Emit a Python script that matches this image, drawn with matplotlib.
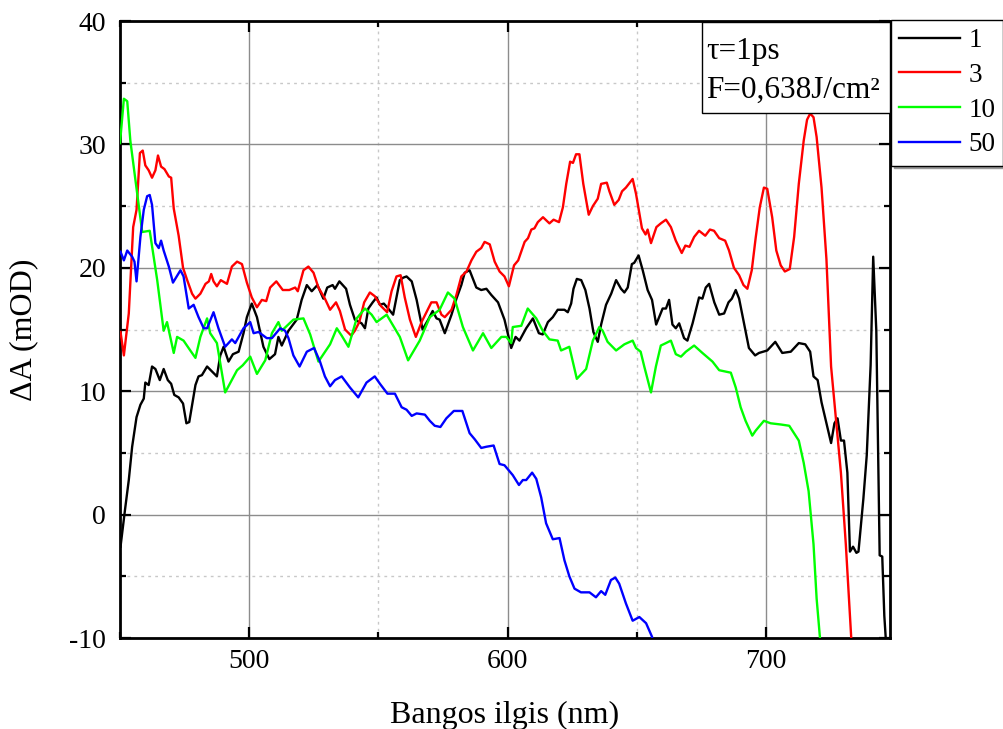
import matplotlib
matplotlib.use('Agg')
import matplotlib.pyplot as plt
from matplotlib.ticker import MultipleLocator
from matplotlib.patches import Rectangle

# delay 1 ps traces, one per number of pulses
wl_1 = [450.2, 452.0, 453.4, 454.7, 456.4, 457.9, 459.2, 459.8, 461.1, 462.4, 463.7, 465.4, 466.9, 468.5,
        469.8, 471.0, 472.7, 474.4, 475.7, 476.8, 479.2, 480.4, 481.7, 483.7, 485.6, 487.5, 488.8, 490.1,
        492.0, 493.7, 495.9, 497.8, 499.1, 501.0, 503.0, 505.5, 507.8, 510.0, 511.3, 512.6, 515.2, 518.4,
        520.3, 522.3, 524.2, 526.4, 528.7, 530.2, 532.3, 533.2, 534.9, 537.5, 539.0, 540.9, 543.5, 544.8,
        546.1, 547.8, 549.3, 550.6, 552.1, 553.8, 555.7, 558.3, 559.6, 560.9, 562.9, 564.8, 567.1, 569.3,
        571.0, 572.5, 573.7, 575.7, 578.3, 580.2, 582.1, 583.4, 585.3, 587.9, 589.8, 591.8, 593.7, 596.3,
        598.8, 601.4, 603.1, 604.6, 607.2, 609.8, 612.1, 613.6, 615.6, 617.5, 619.4, 622.0, 623.3, 624.6,
        625.5, 626.8, 628.5, 630.1, 631.7, 633.2, 634.9, 636.2, 638.1, 640.1, 642.0, 643.9, 645.2, 646.5,
        648.1, 649.0, 650.7, 652.3, 654.2, 655.9, 657.5, 660.0, 661.3, 662.5, 663.8, 665.1, 666.4, 668.3,
        669.6, 671.6, 674.1, 675.4, 676.7, 678.0, 680.0, 681.9, 683.8, 685.5, 686.8, 688.3, 689.6, 691.5,
        693.4, 695.8, 697.3, 700.5, 703.6, 706.3, 709.6, 712.7, 715.2, 717.1, 718.4, 720.0, 721.5, 723.4,
        725.2, 726.5, 727.7, 729.0, 730.2, 731.5, 732.5, 733.7, 735.0, 735.8, 737.7, 739.0, 740.5, 741.5,
        742.7, 744.0, 745.0, 745.8, 746.5]
da_1 = [-2.6, 0.5, 2.8, 5.5, 7.9, 8.9, 9.4, 10.7, 10.5, 12.0, 11.8, 10.9, 11.8, 10.9,
        10.6, 9.7, 9.5, 9.0, 7.4, 7.5, 10.5, 11.2, 11.3, 12.0, 11.6, 11.2, 12.9, 13.6,
        12.4, 13.0, 13.2, 14.7, 16.0, 17.1, 16.0, 13.6, 12.6, 13.0, 14.4, 13.7, 14.9, 15.8,
        17.4, 18.6, 18.1, 18.6, 17.5, 18.4, 18.6, 18.3, 18.9, 18.3, 17.0, 15.8, 15.5, 15.1,
        16.7, 17.2, 17.6, 17.0, 17.1, 16.7, 16.2, 19.0, 19.2, 19.3, 18.9, 17.4, 15.0, 15.8,
        16.5, 15.9, 15.8, 14.7, 16.2, 17.5, 18.6, 19.6, 19.8, 18.4, 18.2, 18.3, 17.8, 17.2,
        15.8, 13.5, 14.4, 14.1, 15.1, 15.9, 14.7, 14.6, 15.6, 16.0, 16.6, 16.6, 16.4, 17.1,
        18.3, 19.1, 19.0, 18.2, 16.7, 14.8, 14.0, 15.4, 17.0, 17.9, 19.0, 18.3, 18.0, 18.4,
        20.3, 20.4, 21.0, 19.8, 18.2, 17.4, 15.4, 16.7, 16.7, 17.4, 15.4, 15.1, 15.5, 14.3,
        14.1, 15.5, 17.6, 17.5, 18.4, 18.7, 17.2, 16.2, 16.3, 17.2, 17.5, 18.2, 17.5, 15.5,
        13.5, 12.9, 13.1, 13.3, 14.0, 13.1, 13.2, 13.9, 13.8, 13.2, 11.2, 10.9, 9.1, 7.4,
        5.8, 7.4, 7.8, 6.0, 6.0, 3.4, -3.0, -2.6, -3.1, -3.0, 1.3, 4.8, 12.1, 20.9,
        14.9, -3.3, -3.4, -8.2, -10.5]

wl_3 = [450.2, 451.5, 453.4, 455.1, 456.4, 457.7, 458.8, 459.8, 461.1, 462.4, 463.7, 464.7, 465.9, 467.2,
        468.9, 469.8, 470.8, 472.7, 474.4, 476.0, 477.9, 479.2, 481.1, 483.1, 484.4, 485.3, 486.2, 487.5,
        489.0, 491.4, 493.3, 495.3, 497.2, 499.1, 501.0, 503.0, 504.9, 506.6, 508.1, 510.5, 513.0, 515.5,
        517.8, 518.8, 521.0, 522.9, 524.9, 526.8, 529.3, 531.3, 533.6, 535.1, 537.1, 539.5, 540.9, 542.6,
        544.5, 546.7, 548.6, 551.0, 553.4, 555.1, 557.0, 558.6, 560.2, 562.2, 564.5, 566.7, 568.6, 570.5,
        572.5, 574.4, 575.7, 578.3, 580.2, 582.1, 584.1, 586.0, 587.9, 589.8, 591.1, 593.1, 595.0, 596.9,
        598.8, 600.5, 602.5, 604.1, 606.6, 607.9, 609.2, 610.4, 611.7, 613.7, 616.2, 617.8, 619.9, 621.4,
        622.7, 624.2, 625.3, 626.5, 627.8, 629.3, 631.4, 633.0, 634.9, 636.2, 638.4, 639.4, 641.3, 643.0,
        644.3, 645.8, 648.4, 649.7, 652.0, 653.4, 654.2, 655.5, 657.6, 659.3, 661.3, 663.2, 665.1, 667.4,
        668.8, 670.4, 672.2, 674.1, 676.5, 678.3, 679.9, 681.9, 684.2, 685.7, 687.6, 689.6, 691.3, 692.8,
        694.5, 696.0, 697.6, 699.2, 700.5, 702.4, 704.0, 705.7, 707.3, 709.2, 710.9, 712.7, 714.6, 715.9,
        717.1, 718.4, 719.6, 721.5, 723.4, 725.2, 727.1, 729.0, 730.9, 733.0, 733.5]
da_3 = [14.8, 12.9, 16.3, 23.3, 24.7, 29.3, 29.5, 28.3, 27.9, 27.3, 27.9, 29.1, 28.2, 28.0,
        27.4, 27.3, 24.8, 22.6, 20.0, 19.0, 17.9, 17.5, 17.9, 18.7, 18.9, 19.5, 18.9, 18.5,
        19.0, 18.7, 20.1, 20.5, 20.3, 18.8, 17.6, 16.8, 17.4, 17.3, 18.4, 18.9, 18.2, 18.2,
        18.4, 18.1, 19.8, 20.1, 19.6, 18.4, 17.5, 16.6, 17.2, 16.5, 15.0, 14.5, 14.9, 15.6,
        17.2, 18.0, 17.7, 16.9, 16.4, 18.1, 19.3, 19.4, 17.6, 15.8, 14.4, 15.6, 16.4, 17.2,
        17.2, 16.2, 16.0, 16.6, 17.8, 19.3, 19.7, 20.6, 21.3, 21.6, 22.1, 21.9, 20.5, 19.7,
        19.3, 18.5, 20.2, 20.6, 22.1, 22.4, 23.1, 23.2, 23.7, 24.1, 23.6, 23.9, 23.7, 24.9,
        26.8, 28.6, 28.5, 29.2, 29.2, 26.8, 24.3, 25.0, 25.6, 26.8, 26.9, 26.2, 25.1, 25.5,
        26.2, 26.5, 27.2, 26.0, 23.2, 22.7, 23.1, 22.0, 23.3, 23.6, 23.9, 23.3, 22.2, 21.2,
        21.8, 21.7, 22.5, 23.0, 22.6, 23.1, 23.0, 22.4, 22.2, 21.4, 20.0, 19.4, 18.6, 18.3,
        19.8, 22.4, 24.9, 26.5, 26.4, 24.1, 21.4, 20.2, 19.7, 19.9, 22.5, 26.8, 30.3, 32.0,
        32.5, 32.2, 30.6, 26.5, 20.7, 12.0, 7.7, 3.4, -2.4, -10.0, -10.8]

wl_10 = [450.0, 451.5, 452.8, 454.0, 456.6, 458.6, 461.5, 464.4, 466.9, 468.2, 470.8, 472.1, 474.6, 477.2,
         479.2, 481.1, 483.7, 484.9, 487.5, 490.7, 495.3, 497.5, 500.4, 503.0, 506.2, 508.8, 511.3, 512.6,
         517.1, 521.0, 523.6, 526.8, 531.3, 533.9, 535.8, 538.4, 541.6, 544.8, 547.4, 549.3, 553.2, 558.3,
         561.5, 566.0, 569.9, 573.7, 576.9, 579.5, 582.7, 586.6, 590.5, 593.7, 597.6, 599.5, 601.4, 602.0,
         605.3, 607.8, 611.1, 613.6, 616.2, 619.4, 620.7, 623.9, 626.8, 630.4, 633.0, 635.5, 636.8, 638.7,
         642.0, 645.2, 648.4, 649.7, 651.5, 652.9, 655.5, 657.4, 659.3, 661.3, 663.2, 665.1, 667.1, 669.0,
         672.2, 675.4, 679.3, 681.9, 686.4, 688.3, 690.2, 692.1, 694.7, 696.0, 699.2, 701.8, 705.8, 709.0,
         712.7, 714.6, 716.5, 718.4, 719.6, 720.9, 721.3]
da_10 = [30.1, 33.7, 33.5, 30.3, 26.1, 22.9, 23.0, 19.0, 14.9, 15.6, 13.1, 14.4, 14.1, 13.3,
         12.7, 14.4, 15.9, 14.7, 13.9, 9.9, 11.7, 12.1, 12.8, 11.4, 12.5, 14.7, 15.6, 14.9,
         15.8, 15.9, 14.6, 12.4, 13.8, 15.1, 14.5, 13.6, 15.9, 16.7, 16.2, 15.6, 16.2, 14.4,
         12.5, 14.1, 16.0, 16.6, 18.0, 17.5, 15.2, 13.3, 14.7, 13.5, 14.4, 14.4, 13.9, 15.2,
         15.3, 16.7, 15.9, 14.9, 14.2, 14.1, 13.3, 13.6, 11.0, 11.8, 14.1, 15.2, 14.9, 14.0,
         13.3, 13.8, 14.1, 13.5, 13.2, 12.0, 9.9, 12.0, 13.7, 13.9, 14.1, 13.0, 12.8, 13.2,
         13.7, 13.1, 12.4, 11.7, 11.5, 10.3, 8.7, 7.6, 6.4, 6.8, 7.6, 7.4, 7.3, 7.2,
         6.0, 4.2, 1.9, -2.4, -6.8, -10.0, -10.8]

wl_50 = [450.2, 451.5, 452.8, 454.7, 455.6, 456.4, 457.9, 459.2, 460.5, 461.5, 462.4, 463.7, 465.0, 465.9,
         466.9, 468.9, 470.5, 473.4, 474.6, 476.6, 478.5, 480.4, 482.4, 483.7, 486.2, 488.1, 490.7, 493.3,
         494.6, 497.8, 500.4, 501.7, 503.6, 506.8, 508.8, 512.0, 513.9, 515.2, 517.1, 519.5, 522.3, 525.1,
         527.4, 529.3, 531.3, 533.2, 535.8, 539.0, 542.2, 545.4, 548.6, 550.6, 553.5, 556.4, 559.0, 560.9,
         562.9, 564.8, 568.0, 569.9, 571.8, 574.0, 576.3, 579.2, 582.5, 585.3, 587.3, 589.8, 591.8, 594.6,
         596.9, 598.8, 602.0, 604.4, 605.9, 607.2, 609.5, 611.1, 613.0, 614.9, 617.5, 620.1, 622.0, 623.9,
         625.9, 628.4, 631.7, 634.2, 636.2, 637.8, 640.0, 641.7, 643.2, 645.8, 648.4, 651.0, 653.6, 655.9,
         656.5]
da_50 = [21.3, 20.6, 21.4, 20.9, 20.5, 18.9, 22.5, 24.7, 25.8, 25.9, 25.1, 22.0, 21.6, 22.2,
         21.4, 20.1, 18.8, 19.8, 19.3, 16.7, 17.0, 16.0, 15.1, 15.1, 16.4, 15.1, 13.6, 14.2,
         13.9, 15.1, 15.6, 14.7, 14.8, 14.3, 14.3, 15.1, 14.9, 14.3, 12.9, 12.0, 13.2, 13.5,
         12.4, 11.2, 10.4, 10.9, 11.2, 10.3, 9.5, 10.7, 11.2, 10.6, 9.8, 9.8, 8.7, 8.5,
         8.0, 8.2, 8.1, 7.6, 7.2, 7.1, 7.8, 8.4, 8.4, 6.6, 6.1, 5.4, 5.5, 5.6,
         4.1, 4.0, 3.2, 2.4, 2.8, 2.8, 3.4, 2.9, 1.4, -0.7, -2.0, -1.9, -3.7, -5.0,
         -6.0, -6.3, -6.3, -6.7, -6.2, -6.5, -5.3, -5.1, -5.6, -7.2, -8.6, -8.3, -8.8, -9.9,
         -10.5]

labels = ['1', '3', '10', '50']
colors = ['#000000', '#ff0000', '#00ff00', '#0000ff']

plt.rcParams['font.family'] = ['Liberation Serif', 'DejaVu Serif']
plt.rcParams['axes.unicode_minus'] = False

fig = plt.figure(figsize=(10.04, 7.29), dpi=100)
ax = fig.add_axes([120 / 1004, 1 - 638 / 729, 770 / 1004, 617 / 729])

series = [(wl_1, da_1), (wl_3, da_3), (wl_10, da_10), (wl_50, da_50)]
for (x, y), lab, c in zip(series, labels, colors):
    ax.plot(x, y, color=c, lw=1.7, label=lab, zorder=3)

ax.set_xlim(450, 748)
ax.set_ylim(-10, 40)
ax.xaxis.set_major_locator(MultipleLocator(100))
ax.xaxis.set_minor_locator(MultipleLocator(50))
ax.yaxis.set_major_locator(MultipleLocator(10))
ax.yaxis.set_minor_locator(MultipleLocator(5))

ax.grid(which='major', color='#8c8c8c', lw=1.0, ls='-', zorder=0)
ax.grid(which='minor', color='#c8c8c8', lw=1.0, ls=(0, (2, 3)), zorder=0)
ax.set_axisbelow(True)

for s in ax.spines.values():
    s.set_linewidth(2.0)
ax.tick_params(which='both', direction='in', top=True, right=True, width=1.6, labelsize=20)
ax.tick_params(which='major', length=8)
ax.tick_params(which='minor', length=4)
ax.tick_params(axis='y', pad=10)
ax.tick_params(axis='x', pad=8)

ax.set_xlabel('Bangos ilgis (nm)', fontsize=23, labelpad=19)
ax.set_ylabel('ΔA (mOD)', fontsize=23, labelpad=22)

# info box
box = Rectangle((702 / 1004, 1 - 113 / 729), 188 / 1004, 91 / 729, transform=fig.transFigure,
                facecolor='white', edgecolor='black', lw=1.0, zorder=5)
fig.add_artist(box)
fig.text(706 / 1004, 1 - 52 / 729, 'τ=1ps', fontsize=22.5, va='center', ha='left', zorder=6)
fig.text(706 / 1004, 1 - 90 / 729, 'F=0,638J/cm²', fontsize=22.5, va='center', ha='left', zorder=6)

leg = ax.legend(loc='upper left', bbox_to_anchor=(891 / 1004, 1 - 20 / 729), bbox_transform=fig.transFigure,
                borderaxespad=0, fontsize=19.5, handlelength=2.25, handletextpad=0.3, labelspacing=0.36,
                borderpad=0.3, fancybox=False, edgecolor='black', framealpha=1,
                shadow={'ox': 2, 'oy': -2, 'color': '#999999', 'alpha': 1})
leg.get_frame().set_linewidth(1.0)

fig.savefig('out.png', dpi=100)
